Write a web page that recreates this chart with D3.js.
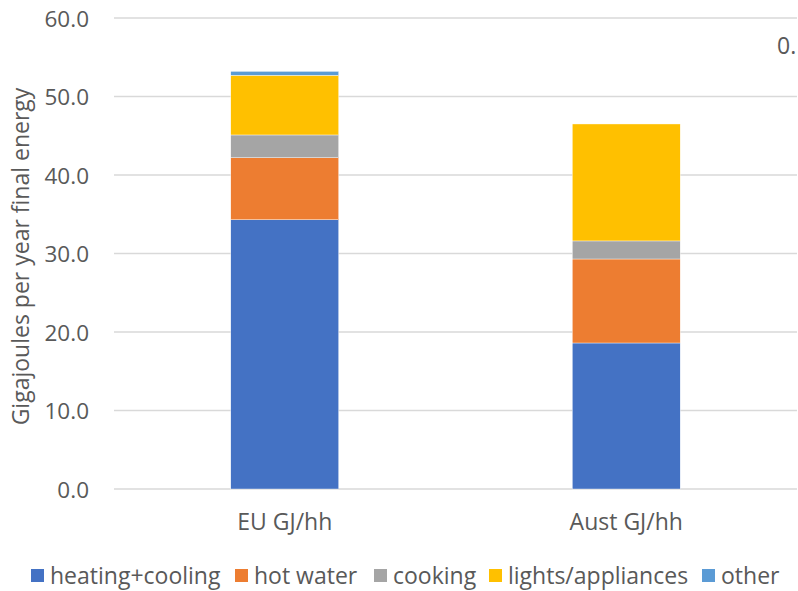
<!DOCTYPE html>
<html><head><meta charset="utf-8">
<script src="https://cdn.jsdelivr.net/npm/d3@7"></script>
<style>
body{margin:0;background:#fff;}
text{font-family:"Open Sans","Segoe UI",sans-serif;fill:#595959;}
</style></head>
<body><svg id="c" width="798" height="591"></svg>
<script>
const categories = ["EU GJ/hh", "Aust GJ/hh"];
const seriesNames = ["heating+cooling", "hot water", "cooking", "lights/appliances", "other"];
const heatingCooling = [34.3, 18.6];
const hotWater = [7.9, 10.7];
const cooking = [2.9, 2.3];
const lightsAppliances = [7.6, 14.9];
const other = [0.5, 0.0];
const yTicks = [0, 10, 20, 30, 40, 50, 60];
const colors = ["#4472C4", "#ED7D31", "#A5A5A5", "#FFC000", "#5B9BD5"];

(function () {
const seriesVals = [heatingCooling, hotWater, cooking, lightsAppliances, other];
const rows = categories.map((c, i) => {
  const r = {cat: c};
  seriesNames.forEach((s, k) => r[s] = seriesVals[k][i]);
  return r;
});

const svg = d3.select("#c");
const pL = 114, pR = 797, pT = 18, pB = 489;
const x = d3.scaleBand().domain(categories).range([pL, pR]).paddingInner(0.684).paddingOuter(0.342);
const y = d3.scaleLinear().domain([0, 60]).range([pB, pT]);

svg.append("g").selectAll("line").data(yTicks).join("line")
  .attr("x1", pL).attr("x2", pR)
  .attr("y1", d => y(d)).attr("y2", d => y(d))
  .attr("stroke", "#D9D9D9").attr("stroke-width", 1.3);

const yAxis = d3.axisLeft(y).tickValues(yTicks).tickFormat(d3.format(".1f")).tickSize(0).tickPadding(0);
const ya = svg.append("g").attr("transform", `translate(89,0)`).call(yAxis);
ya.select(".domain").remove();
ya.selectAll("text").attr("font-size", 22.5).attr("fill", "#595959").style("font-family", "'Open Sans', sans-serif").attr("dy", "0.36em");

const stack = d3.stack().keys(seriesNames)(rows);
svg.append("g").selectAll("g").data(stack).join("g")
  .attr("fill", (d, i) => colors[i])
  .selectAll("rect").data(d => d).join("rect")
  .attr("x", d => x(d.data.cat))
  .attr("width", x.bandwidth())
  .attr("y", d => y(d[1]))
  .attr("height", d => Math.max(0, y(d[0]) - y(d[1])))
  .attr("stroke", "#fff").attr("stroke-width", 0.4);

const xAxis = d3.axisBottom(x).tickSize(0).tickPadding(0);
const xa = svg.append("g").attr("transform", `translate(0,${pB})`).call(xAxis);
xa.select(".domain").remove();
xa.selectAll("text").attr("font-size", 23).attr("fill", "#595959").style("font-family", "'Open Sans', sans-serif").attr("y", 41).attr("dy", 0);

svg.append("text")
  .attr("transform", `translate(29,${(pT + pB) / 2 + 3}) rotate(-90)`)
  .attr("text-anchor", "middle").attr("font-size", 23)
  .text("Gigajoules per year final energy");

svg.append("text").attr("x", 777).attr("y", 54).attr("font-size", 23).text("0.");

const legX = [31, 235, 374, 489, 702];
const lg = svg.append("g").selectAll("g").data(seriesNames).join("g")
  .attr("transform", (d, i) => `translate(${legX[i]},569)`);
lg.append("rect").attr("width", 13).attr("height", 13).attr("fill", (d, i) => colors[i]);
lg.append("text").attr("x", 19).attr("y", 15).attr("font-size", 23).text(d => d);
})();
</script></body></html>
